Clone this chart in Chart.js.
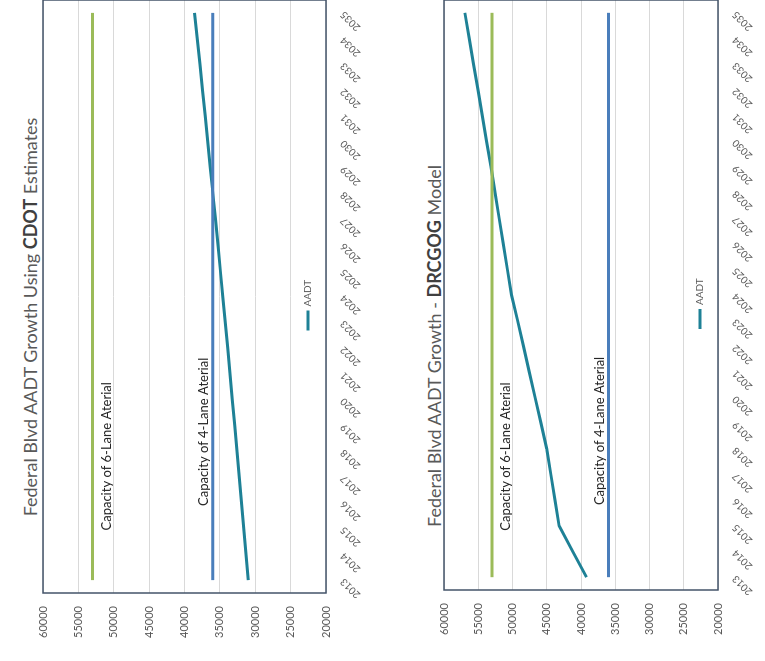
<!DOCTYPE html>
<html>
<head>
<meta charset="utf-8">
<script src="https://cdn.jsdelivr.net/npm/chart.js@4.4.0/dist/chart.umd.min.js"></script>
<style>
  html, body { margin: 0; padding: 0; background: #fff; }
  body { width: 765px; height: 661px; position: relative; overflow: hidden; font-family: Lato, "Open Sans", sans-serif; }
  .turn { position: absolute; transform-origin: 0 0; transform: rotate(-90deg); }
  .title { font-size: 18px; line-height: 20px; height: 20px; text-align: center; color: #595959; font-weight: 400; white-space: nowrap; }
  .title b { color: #404040; font-weight: 700; }
</style>
</head>
<body>
<div class="turn title" style="left:20px; top:617px; width:600px;">Federal Blvd AADT Growth Using <b>CDOT</b> Estimates</div>
<div class="turn" style="left:30px; top:661px; width:664px; height:348px;"><canvas id="cdot" width="664" height="348"></canvas></div>
<div class="turn title" style="left:424px; top:646px; width:600px;">Federal Blvd AADT Growth - <b>DRCGOG</b> Model</div>
<div class="turn" style="left:430px; top:661px; width:664px; height:335px;"><canvas id="drcog" width="664" height="335"></canvas></div>
<script>
  'use strict';

  var years = ['2013', '2014', '2015', '2016', '2017', '2018', '2019', '2020', '2021', '2022', '2023', '2024',
               '2025', '2026', '2027', '2028', '2029', '2030', '2031', '2032', '2033', '2034', '2035'];

  var cdotAadt = [31000, 31310, 31620, 31940, 32260, 32580, 32910, 33240, 33570, 33900, 34240, 34580,
                  34930, 35280, 35630, 35990, 36350, 36710, 37080, 37450, 37820, 38200, 38580];

  var drcogAadt = [39200, 41200, 43200, 43800, 44400, 45000, 45850, 46700, 47550, 48400, 49250, 50150,
                   50750, 51350, 51950, 52550, 53150, 53790, 54420, 55050, 55680, 56310, 56950];

  var cap6Lane = [53000, 53000, 53000, 53000, 53000, 53000, 53000, 53000, 53000, 53000, 53000, 53000,
                  53000, 53000, 53000, 53000, 53000, 53000, 53000, 53000, 53000, 53000, 53000];

  var cap4Lane = [36000, 36000, 36000, 36000, 36000, 36000, 36000, 36000, 36000, 36000, 36000, 36000,
                  36000, 36000, 36000, 36000, 36000, 36000, 36000, 36000, 36000, 36000, 36000];

  var valueMin = 20000, valueMax = 60000, valueStep = 5000;

  var teal = '#1e8196', green = '#9bbb59', blue = '#4a7ebb';

  // box around the plot area
  var frame = {
    id: 'frame',
    beforeDatasetsDraw: function (chart) {
      var a = chart.chartArea, ctx = chart.ctx;
      ctx.save();
      ctx.strokeStyle = '#44546a';
      ctx.lineWidth = 1.5;
      ctx.strokeRect(a.left, a.top, a.right - a.left, a.bottom - a.top);
      ctx.restore();
    }
  };

  // "Capacity of ..." text next to the flat lines
  var capLabels = {
    id: 'capLabels',
    afterDatasetsDraw: function (chart) {
      var ctx = chart.ctx, xs = chart.scales.x, ys = chart.scales.y;
      chart.data.datasets.forEach(function (ds) {
        if (!ds.capText) return;
        var px = xs.getPixelForValue(ds.capAt);
        var py = ys.getPixelForValue(ds.data[0]) + ds.capShift;
        ctx.save();
        ctx.font = '13px Lato';
        ctx.fillStyle = '#262626';
        ctx.textAlign = 'center';
        ctx.textBaseline = 'middle';
        ctx.fillText(ds.capText, px, py);
        ctx.restore();
      });
    }
  };

  // small legend sitting inside the plot, near the bottom
  var aadtKey = {
    id: 'aadtKey',
    afterDraw: function (chart) {
      var a = chart.chartArea, ctx = chart.ctx;
      var cx = (a.left + a.right) / 2, y = a.bottom - 18;
      ctx.save();
      ctx.strokeStyle = teal;
      ctx.lineWidth = 3;
      ctx.beginPath();
      ctx.moveTo(cx - 34, y);
      ctx.lineTo(cx - 14, y);
      ctx.stroke();
      ctx.font = '10px Lato';
      ctx.fillStyle = '#595959';
      ctx.textAlign = 'left';
      ctx.textBaseline = 'middle';
      ctx.fillText('AADT', cx - 10, y);
      ctx.restore();
    }
  };

  function makeChart(id, aadt, axisWidth, padTop, axisHeight, cap6At, cap4At) {
    var ctx = document.getElementById(id).getContext('2d');
    return new Chart(ctx, {
      type: 'line',
      data: {
        labels: years,
        datasets: [
          {
            label: 'Capacity of 6-Lane Aterial',
            data: cap6Lane,
            borderColor: green,
            borderWidth: 3,
            pointRadius: 0,
            capText: 'Capacity of 6-Lane Aterial',
            capAt: cap6At,
            capShift: 14
          },
          {
            label: 'Capacity of 4-Lane Aterial',
            data: cap4Lane,
            borderColor: blue,
            borderWidth: 3,
            pointRadius: 0,
            capText: 'Capacity of 4-Lane Aterial',
            capAt: cap4At,
            capShift: -9
          },
          {
            label: 'AADT',
            data: aadt,
            borderColor: teal,
            borderWidth: 3,
            pointRadius: 0,
            tension: 0
          }
        ]
      },
      options: {
        responsive: false,
        animation: false,
        events: [],
        layout: { autoPadding: false, padding: { left: 0, right: 3, top: padTop, bottom: 0 } },
        plugins: { legend: { display: false }, title: { display: false }, tooltip: { enabled: false } },
        scales: {
          x: {
            offset: true,
            grid: { display: false, drawTicks: false },
            border: { display: false },
            ticks: {
              autoSkip: false,
              minRotation: 45,
              maxRotation: 45,
              padding: 12,
              color: '#595959',
              font: { family: 'Lato', size: 10 }
            },
            afterFit: function (scale) {
              scale.height = axisHeight;
              scale.paddingLeft = 0;
              scale.paddingRight = 0;
            }
          },
          y: {
            min: valueMin,
            max: valueMax,
            grid: { color: '#d9d9d9', lineWidth: 1, drawTicks: false },
            border: { display: false },
            ticks: {
              stepSize: valueStep,
              padding: 13,
              color: '#595959',
              font: { family: 'Lato', size: 11 },
              callback: function (v) { return String(v); }
            },
            afterFit: function (scale) {
              scale.width = axisWidth;
              scale.paddingTop = 0;
              scale.paddingBottom = 0;
            }
          }
        }
      },
      plugins: [frame, capLabels, aadtKey]
    });
  }

  makeChart('cdot', cdotAadt, 68, 13, 52, 4.8, 5.75);
  makeChart('drcog', drcogAadt, 71, 14, 47, 4.7, 5.7);
</script>
</body>
</html>
